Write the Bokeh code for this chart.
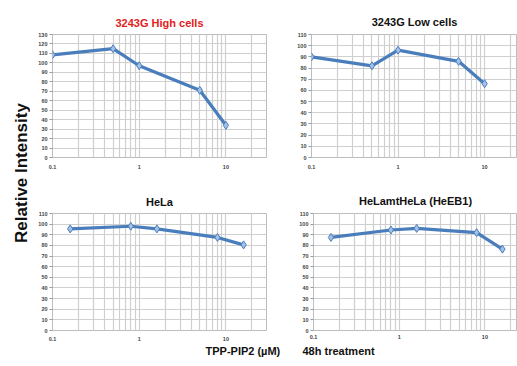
import math
from bokeh.plotting import figure
from bokeh.models import Range1d, FixedTicker, Label, CustomJSTickFormatter
from bokeh.layouts import row, column
from bokeh.embed import file_html
from bokeh.resources import INLINE

# ---------------- data ----------------
doses_a = [0.1, 0.5, 1, 5, 10]
high_cells = [108.5, 115, 97, 71, 34]
low_cells = [90, 82, 96, 86, 66]

doses_b = [0.16, 0.8, 1.6, 8, 16]
hela = [95.5, 98, 95.5, 87.5, 80.5]
heeb1 = [87.5, 94.5, 96, 92, 76.5]

x_major = [0.1, 1, 10]
x_minor = [0.2, 0.3, 0.4, 0.5, 0.6, 0.7, 0.8, 0.9,
           2, 3, 4, 5, 6, 7, 8, 9, 20]
y_ticks_130 = [0, 10, 20, 30, 40, 50, 60, 70, 80, 90, 100, 110, 120, 130]
y_ticks_110 = [0, 10, 20, 30, 40, 50, 60, 70, 80, 90, 100, 110]

title_high = "3243G High cells"
title_low = "3243G Low cells"
title_hela = "HeLa"
title_heeb1 = "HeLamtHeLa (HeEB1)"
y_label = "Relative Intensity"
x_label = "TPP-PIP2 (\u00b5M)"
x_note = "48h treatment"

LINE = "#4a7dbb"
FILL = "#a3c1e6"
GRID = "#cfcfcf"
TICKTXT = "#444444"


def panel(title, title_color, xs, ys, yticks, ymax, w, h, bl, br, bt, bb,
          xmax, t_off, t_stand, xl_stand):
    p = figure(width=w, height=h, x_axis_type="log",
               x_range=Range1d(0.1, xmax), y_range=Range1d(0, ymax),
               output_backend="svg", toolbar_location=None,
               min_border_left=bl, min_border_right=br,
               min_border_top=bt, min_border_bottom=bb)
    p.background_fill_color = "white"
    p.border_fill_color = "white"
    p.outline_line_color = "#bdbdbd"
    p.outline_line_width = 1

    p.title.text = title
    p.title.text_color = title_color
    p.title.text_font = "Liberation Sans"
    p.title.text_font_style = "bold"
    p.title.text_font_size = "11px"
    p.title.align = "center"
    p.title.offset = t_off
    p.title.standoff = t_stand

    xt = FixedTicker(ticks=x_major, minor_ticks=x_minor)
    p.xaxis.ticker = xt
    p.xgrid.ticker = xt
    p.xaxis.formatter = CustomJSTickFormatter(code="return tick.toString();")
    p.xaxis.major_tick_out = 0
    p.xaxis.major_tick_in = 0
    p.xaxis.minor_tick_out = 0
    p.xaxis.minor_tick_in = 0
    p.xaxis.major_label_standoff = xl_stand
    p.xaxis.axis_line_color = None

    yt = FixedTicker(ticks=yticks, minor_ticks=[])
    p.yaxis.ticker = yt
    p.ygrid.ticker = yt
    p.yaxis.major_tick_out = 3
    p.yaxis.major_tick_in = 0
    p.yaxis.major_tick_line_color = "#9a9a9a"
    p.yaxis.minor_tick_out = 0
    p.yaxis.minor_tick_in = 0
    p.yaxis.major_label_standoff = 2
    p.yaxis.axis_line_color = None

    for ax in (p.xaxis, p.yaxis):
        ax.major_label_text_font = "Liberation Sans"
        ax.major_label_text_font_style = "bold"
        ax.major_label_text_font_size = "5.5px"
        ax.major_label_text_color = TICKTXT

    p.xgrid.grid_line_color = GRID
    p.xgrid.minor_grid_line_color = GRID
    p.xgrid.grid_line_width = 1.2
    p.xgrid.minor_grid_line_width = 1.2
    p.ygrid.grid_line_color = GRID
    p.ygrid.grid_line_width = 1.2

    p.line(xs, ys, line_color=LINE, line_width=3.2)
    p.scatter(xs, ys, marker="diamond", size=8, fill_color=FILL,
              line_color=LINE, line_width=1)
    return p


# layout (page px): left col 0..30, left panels 30..292, right panels 292..517
tl = panel(title_high, "#e3211c", doses_a, high_cells, y_ticks_130, 130,
           262, 180, 22, 26, 33, 23, 29.4, -4.5, 12, 7)
tr = panel(title_low, "#111111", doses_a, low_cells, y_ticks_110, 110,
           225, 180, 19, 0, 34, 23, 24.0, -1.5, 12.5, 7)
bl = panel(title_hela, "#111111", doses_b, hela, y_ticks_110, 110,
           262, 164, 22, 26, 25, 14, 29.4, -6, 11, 6)
br = panel(title_heeb1, "#111111", doses_b, heeb1, y_ticks_110, 110,
           225, 164, 21, 0, 33, 11, 24.0, -9, 13, 4)

yl = figure(width=30, height=344, x_range=Range1d(0, 30),
            y_range=Range1d(0, 344), output_backend="svg",
            toolbar_location=None, min_border=0)
yl.axis.visible = False
yl.grid.visible = False
yl.outline_line_color = None
yl.add_layout(Label(x=21, y=171.5, x_units="screen", y_units="screen",
                    text=y_label, angle=math.pi / 2,
                    text_font="Liberation Sans", text_font_style="bold",
                    text_font_size="17px", text_color="#111111",
                    text_align="center", text_baseline="middle"))

bottom = figure(width=517, height=21, x_range=Range1d(0, 517),
                y_range=Range1d(0, 21), output_backend="svg",
                toolbar_location=None, min_border=0)
bottom.axis.visible = False
bottom.grid.visible = False
bottom.outline_line_color = None
bottom.add_layout(Label(x=205, y=15, x_units="screen", y_units="screen",
                        text=x_label, text_font="Liberation Sans",
                        text_font_style="bold", text_font_size="11px",
                        text_color="#111111", text_baseline="middle",
                        text_align="left"))
bottom.add_layout(Label(x=302, y=15, x_units="screen", y_units="screen",
                        text=x_note, text_font="Liberation Sans",
                        text_font_style="bold", text_font_size="11px",
                        text_color="#111111", text_baseline="middle",
                        text_align="left"))

layout = column(row(yl, column(row(tl, tr), row(bl, br))), bottom)

open("out.html", "w").write(file_html(layout, INLINE))
